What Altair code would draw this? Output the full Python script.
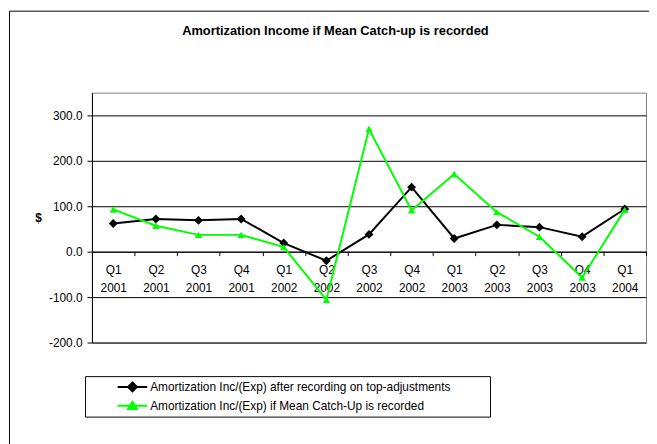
import altair as alt
import pandas as pd

# ---- data ----
quarters = ["Q1 2001", "Q2 2001", "Q3 2001", "Q4 2001",
            "Q1 2002", "Q2 2002", "Q3 2002", "Q4 2002",
            "Q1 2003", "Q2 2003", "Q3 2003", "Q4 2003",
            "Q1 2004"]
after_top_adjustments = [62, 72, 69, 72, 19, -20, 38, 142, 29, 59, 54, 33, 94]
mean_catch_up = [93, 57, 37, 37, 10, -106, 270, 91, 171, 87, 33, -57, 92]
series_names = ["Amortization Inc/(Exp) after recording on top-adjustments",
                "Amortization Inc/(Exp) if Mean Catch-Up is recorded"]
series_colors = ["#000000", "#00FF00"]
y_ticks = [-200, -100, 0, 100, 200, 300]
title_text = "Amortization Income if Mean Catch-up is recorded"
y_title = "$"

rows = []
for q, a, b in zip(quarters, after_top_adjustments, mean_catch_up):
    rows.append({"q": q, "series": series_names[0], "v": a})
    rows.append({"q": q, "series": series_names[1], "v": b})
df = pd.DataFrame(rows)

FONT = "Liberation Sans"

x_enc = alt.X(
    "q:O", sort=quarters,
    scale=alt.Scale(type="band", paddingInner=0, paddingOuter=0),
    axis=alt.Axis(title=None, labelAngle=0, labelFontSize=12, labelFont=FONT,
                  labelColor="black", labelExpr="split(datum.label, ' ')",
                  labelLineHeight=18, labelBaseline="top", labelPadding=9,
                  tickBand="extent", tickSize=4, tickColor="black",
                  domainColor="black", offset=-92, grid=False),
)
y_enc = alt.Y(
    "v:Q",
    scale=alt.Scale(domain=[-200, 350], nice=False, zero=False),
    axis=alt.Axis(values=y_ticks, title=y_title, titleAngle=0, titleX=-54.5,
                  titleY=126.5, titleAlign="center", titleBaseline="middle",
                  titleFontWeight="bold", titleFontSize=12, titleFont=FONT,
                  labelExpr="(datum.value < 0 ? '-' : '') + format(abs(datum.value), '.1f')",
                  labelFontSize=12, labelFont=FONT, labelColor="black",
                  labelPadding=5, tickSize=5, tickColor="black",
                  domainColor="black", grid=True, gridColor="black"),
)

base = alt.Chart(df).encode(x=x_enc, y=y_enc)

line_a = base.transform_filter(alt.datum.series == series_names[0]).mark_line(
    color=series_colors[0], strokeWidth=2)
pts_a = base.transform_filter(alt.datum.series == series_names[0]).mark_point(
    shape="diamond", filled=True, size=81, color=series_colors[0], opacity=1)
line_b = base.transform_filter(alt.datum.series == series_names[1]).mark_line(
    color=series_colors[1], strokeWidth=2)
pts_b = base.transform_filter(alt.datum.series == series_names[1]).mark_point(
    shape="triangle-up", filled=True, size=56, color=series_colors[1], opacity=1)

# legend symbols: a short line with the series marker on it
legend_shapes = [
    "M-3,0L3,0M0,-0.9L0.9,0L0,0.9L-0.9,0ZM0,-0.45L0.45,0L0,0.45L-0.45,0Z",
    "M-3,0L3,0M0,-0.8L0.9,0.65L-0.9,0.65ZM0,-0.25L0.35,0.35L-0.35,0.35Z",
]
leg = alt.Legend(orient="none", legendX=35, legendY=292, title=None, padding=0,
                 symbolSize=100, symbolStrokeWidth=2, symbolOpacity=1,
                 labelFontSize=12, labelFont=FONT, labelColor="black",
                 labelOffset=12, rowPadding=2, labelLimit=500)
legend_layer = base.transform_filter("false").mark_point(
    filled=False, size=100, strokeWidth=2).encode(
    color=alt.Color("series:N", scale=alt.Scale(domain=series_names, range=series_colors), legend=leg),
    shape=alt.Shape("series:N", scale=alt.Scale(domain=series_names, range=legend_shapes), legend=leg),
)

frame_df = pd.DataFrame({"k": [0]})
legend_frame = alt.Chart(frame_df).mark_rect(
    fill="white", fillOpacity=0, stroke="black", strokeWidth=1).encode(
    x=alt.value(-6.5), x2=alt.value(403.5), y=alt.value(287.5), y2=alt.value(328.5))
outer_frame = alt.Chart(frame_df).mark_rect(
    fill="white", fillOpacity=0, stroke="black", strokeWidth=1).encode(
    x=alt.value(-83.5), x2=alt.value(600), y=alt.value(-82.5), y2=alt.value(400))

chart = alt.layer(outer_frame, line_a, pts_a, line_b, pts_b, legend_layer, legend_frame).properties(
    width=561, height=253,
    title=alt.TitleParams(text=title_text, fontSize=13, fontWeight="bold", font=FONT,
                          color="black", anchor="middle", dx=-34, baseline="middle",
                          offset=-33.5),
    autosize=alt.AutoSizeParams(type="none"),
    padding={"left": 85, "top": 83, "right": 3, "bottom": 100},
).configure(font=FONT, background="white").configure_view(stroke="#808080", strokeWidth=1)

chart.save("out.html", embed_options={"renderer": "svg", "actions": False})
